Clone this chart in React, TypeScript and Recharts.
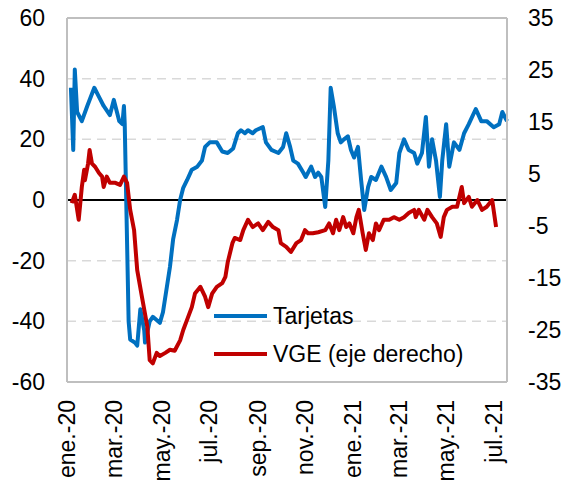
import { LineChart, Line, XAxis, YAxis, ReferenceLine, Legend } from "recharts";

// days counted from 1 Jan 2020
const tarjetasDays = [
  5, 8, 10, 13, 19, 26, 35, 41, 47, 55, 60, 64, 67, 71, 73, 74, 79, 81, 87, 90,
  94, 99, 100, 106, 110, 119, 123, 128, 132, 136, 141, 145, 149, 154, 160, 167, 173, 177, 183, 192,
  199, 206, 213, 219, 223, 228, 232, 238, 242, 251, 255, 262, 271, 277, 281, 286, 290, 296, 303, 306,
  313, 318, 322, 326, 331, 335, 338, 342, 347, 351, 355, 360, 364, 368, 373, 377, 381, 386, 390, 396,
  403, 409, 415, 422, 426, 432, 438, 445, 449, 455, 460, 464, 468, 473, 478, 481, 486, 490, 496, 503,
  509, 515, 524, 531, 538, 547, 554, 558, 564,
];
const tarjetasValues = [
  37, 16.5, 43, 29, 26, 31, 37, 34, 31, 28, 33, 29, 26, 25, 31, 25, -40, -46, -47, -48,
  -36, -43, -47, -40, -38.5, -40.5, -37, -28.7, -22, -13, -6.6, 0, 4, 6.6, 10, 11, 13, 17.5, 19, 19,
  16, 15.5, 17, 22, 23, 22, 23, 22, 23, 24, 19, 16.5, 15.5, 17.5, 22, 17.5, 13, 12, 9, 7.6,
  11, 7.6, 9, 7.6, -2.3, 13, 37, 31, 22, 19, 20, 21, 16.5, 14, 17.5, 6.6, -3.3, 4.3, 7.6, 6.6,
  11, 7.6, 3.3, 5.6, 15.5, 20, 16.5, 15.5, 12, 15.5, 27.4, 11, 20, 13, 1, 13, 25, 11, 19, 16.5,
  22, 25, 30, 26, 26, 24, 25, 29, 26,
];

const vgeDays = [
  6, 10, 15, 19, 22, 23, 27, 29, 32, 36, 41, 45, 47, 51, 55, 62, 68, 73, 77, 81,
  86, 90, 96, 103, 106, 110, 115, 119, 126, 132, 138, 145, 149, 154, 160, 164, 171, 177, 181, 186,
  192, 199, 203, 206, 212, 215, 222, 226, 232, 238, 245, 251, 258, 264, 271, 274, 281, 287, 294, 300,
  305, 309, 315, 322, 331, 336, 341, 345, 349, 354, 358, 362, 367, 371, 374, 379, 383, 387, 392, 396,
  400, 406, 413, 419, 426, 432, 438, 445, 447, 451, 458, 462, 468, 474, 479, 483, 487, 494, 500, 506,
  509, 515, 519, 526, 532, 538, 545, 550,
];
const vgeValues = [
  -0.6, 1, -3.8, 2.5, 5.8, 3.8, 7, 9.6, 7, 6.4, 5.2, 4.5, 2.5, 4.5, 3.3, 3.3, 2.9, 4.5, 3.3, -1.9,
  -5.8, -13.5, -18.6, -24.4, -30.8, -31.4, -29.4, -30, -29.4, -28.8, -29, -27, -25, -23, -20.6, -18, -16.7, -18.6, -20.6, -18,
  -16.7, -16, -14.8, -12, -8.3, -7.3, -7.7, -5.8, -3.8, -5.2, -4.5, -5.8, -4.2, -5.2, -5.8, -8.3, -9, -10, -8.3, -7.7,
  -5.8, -6.4, -6.4, -6.2, -5.8, -4.5, -6.4, -3.8, -5.8, -3.3, -5.2, -4.5, -6.4, -3.3, -1.9, -6.4, -9.6, -6.4, -7.7, -4.5,
  -5.8, -3.8, -3.8, -3.3, -3.8, -3.3, -2.5, -1.9, -3.3, -1.9, -3.8, -1.9, -3.3, -4.5, -7.1, -3.3, -1.9, -1.3, -1.3, 2.5,
  -0.6, 0.6, -1.3, 0, -1.9, -1.3, 0, -5.2,
];

const monthTicks = [0, 60, 121, 182, 244, 305, 366, 425, 486, 547];
const monthLabels = ["ene.-20", "mar.-20", "may.-20", "jul.-20", "sep.-20", "nov.-20", "ene.-21", "mar.-21", "may.-21", "jul.-21"];
const leftTicks = [-60, -40, -20, 0, 20, 40, 60];
const rightTicks = [-35, -25, -15, -5, 5, 15, 25, 35];
const gridValues = [-40, -20, 20, 40];

const tarjetas = tarjetasDays.map((d, i) => ({ d, v: tarjetasValues[i] }));
const vge = vgeDays.map((d, i) => ({ d, v: vgeValues[i] }));

const FONT = "'Liberation Sans', Arial, sans-serif";

const MonthTick = ({ x, y, payload }: any) => {
  const i = monthTicks.indexOf(payload.value);
  return (
    <g transform={`translate(${x},${y + 16})`}>
      <text transform="rotate(-90)" textAnchor="end" dy="0.36em" fontSize={23} fill="#000" fontFamily={FONT}>
        {monthLabels[i]}
      </text>
    </g>
  );
};

const LegendBox = ({ payload }: any) => (
  <div style={{ fontFamily: FONT, fontSize: 23, color: "#000" }}>
    {(payload || []).map((p: any) => (
      <div key={p.value} style={{ display: "flex", alignItems: "center", height: 38 }}>
        <span style={{ display: "inline-block", width: 53, height: 4, background: p.color, marginRight: 6 }} />
        <span>{p.value}</span>
      </div>
    ))}
  </div>
);

export default function App() {
  return (
    <div style={{ position: "absolute", left: 0, top: 0 }}>
      <LineChart width={565} height={481} margin={{ top: 18, right: 0, bottom: 0, left: 0 }}>
        <XAxis
          xAxisId="x"
          type="number"
          dataKey="d"
          domain={[0, 564]}
          ticks={monthTicks}
          tick={<MonthTick />}
          tickLine={false}
          tickSize={0}
          height={99}
          axisLine={{ stroke: "#bfbfbf", strokeWidth: 2 }}
          interval={0}
        />
        <YAxis
          yAxisId="left"
          domain={[-60, 60]}
          ticks={leftTicks}
          width={67}
          tickLine={false}
          tickSize={0}
          tickMargin={22}
          axisLine={{ stroke: "#bfbfbf", strokeWidth: 2 }}
          tick={{ fontSize: 23, fill: "#000", fontFamily: FONT }}
          interval={0}
        />
        <YAxis
          yAxisId="right"
          orientation="right"
          domain={[-35, 35]}
          ticks={rightTicks}
          width={58}
          tickLine={false}
          tickSize={0}
          tickMargin={21}
          axisLine={{ stroke: "#bfbfbf", strokeWidth: 2 }}
          tick={{ fontSize: 23, fill: "#000", fontFamily: FONT }}
          interval={0}
        />
        {gridValues.map((g) => (
          <ReferenceLine key={g} xAxisId="x" yAxisId="left" y={g} stroke="#d9d9d9" strokeWidth={1.5} strokeDasharray="9 6" />
        ))}
        <ReferenceLine xAxisId="x" yAxisId="left" y={60} stroke="#bfbfbf" strokeWidth={2} />
        <ReferenceLine xAxisId="x" yAxisId="left" y={0} stroke="#000" strokeWidth={2} />
        <Line
          xAxisId="x"
          yAxisId="left"
          data={tarjetas}
          dataKey="v"
          name="Tarjetas"
          stroke="#0070c0"
          strokeWidth={4}
          dot={false}
          strokeLinejoin="round"
          isAnimationActive={false}
        />
        <Line
          xAxisId="x"
          yAxisId="right"
          data={vge}
          dataKey="v"
          name="VGE (eje derecho)"
          stroke="#c00000"
          strokeWidth={4}
          dot={false}
          strokeLinejoin="round"
          isAnimationActive={false}
        />
        <Legend
          layout="vertical"
          align="center"
          verticalAlign="middle"
          content={<LegendBox />}
          wrapperStyle={{ left: 214, top: 297, width: 280 }}
        />
      </LineChart>
    </div>
  );
}
